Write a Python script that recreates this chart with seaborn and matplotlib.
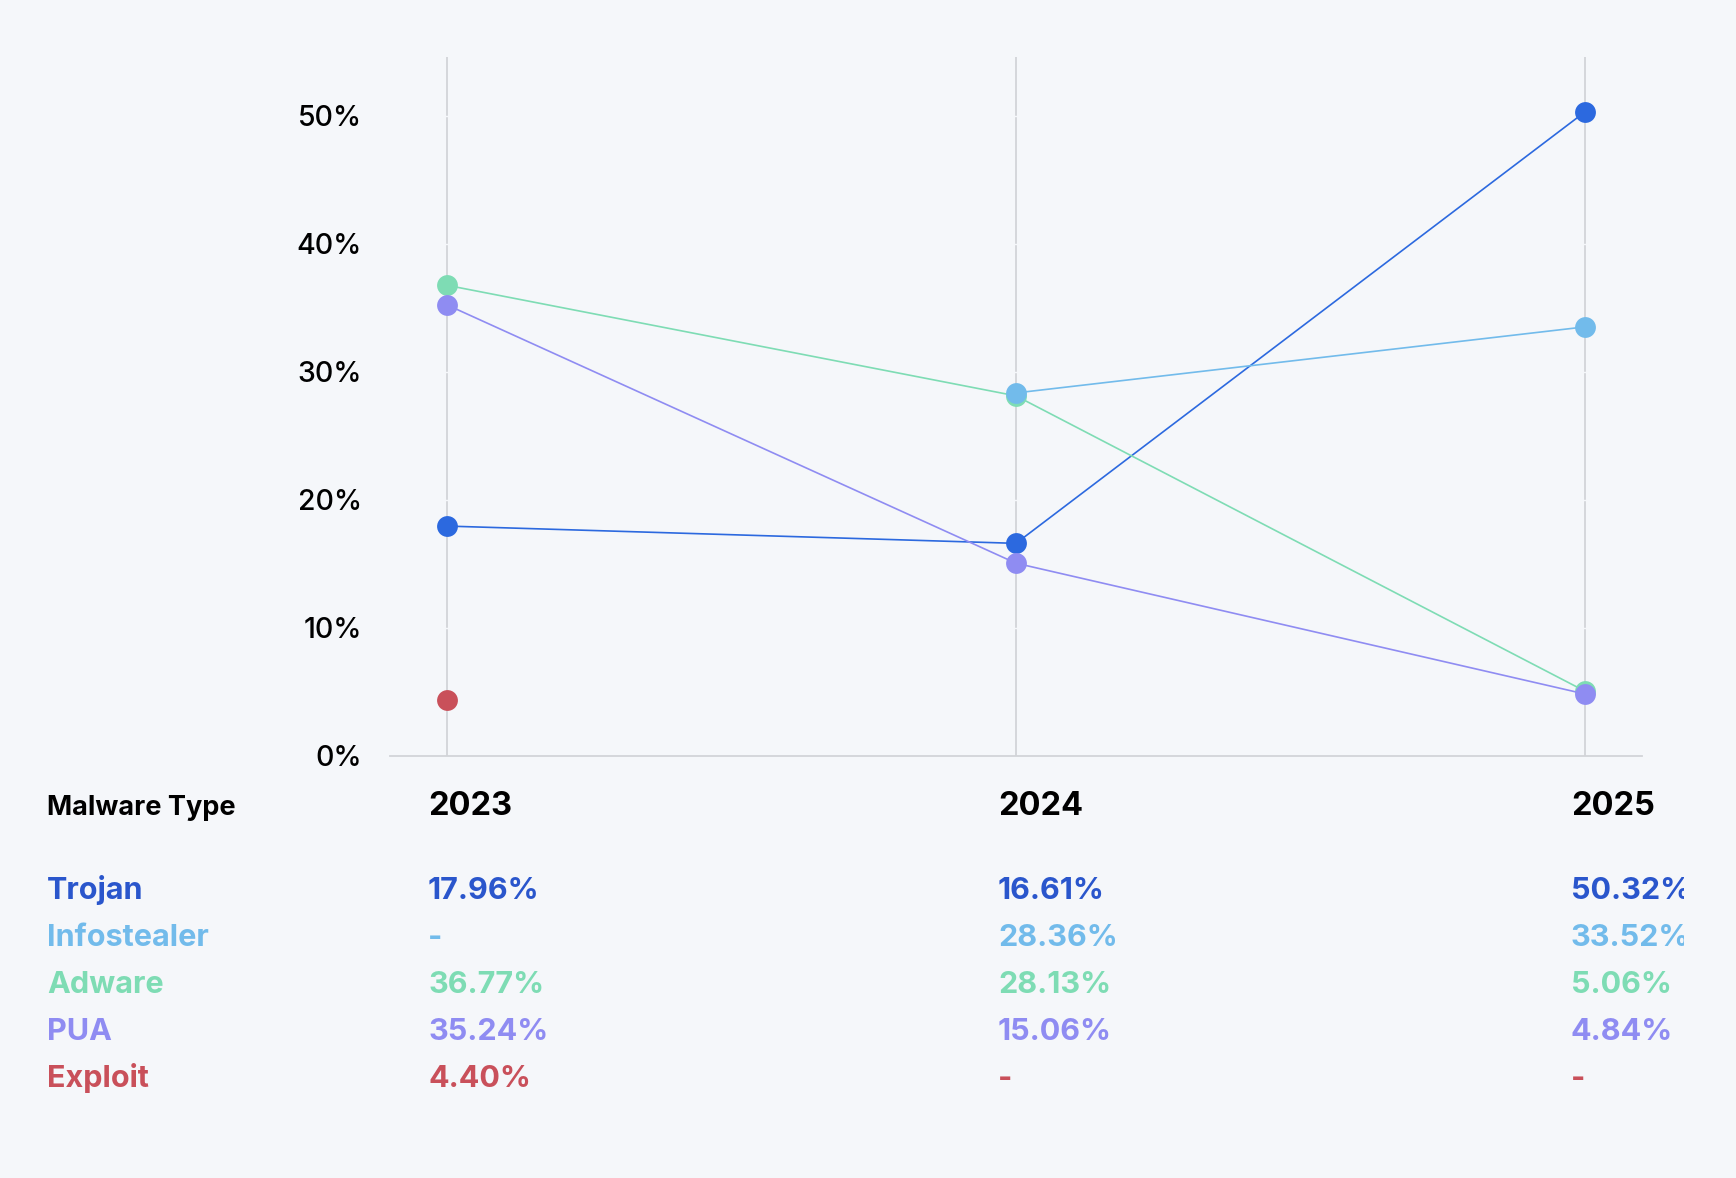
import numpy as np
import pandas as pd
import matplotlib
matplotlib.use("Agg")
import matplotlib.pyplot as plt
from matplotlib.transforms import Bbox
import seaborn as sns

# ---- data ----
years = ["2023", "2024", "2025"]
malware_types = ["Trojan", "Infostealer", "Adware", "PUA", "Exploit"]
trojan = [17.96, 16.61, 50.32]
infostealer = [np.nan, 28.36, 33.52]
adware = [36.77, 28.13, 5.06]
pua = [35.24, 15.06, 4.84]
exploit = [4.40, np.nan, np.nan]
y_ticks = [0, 10, 20, 30, 40, 50]

series = {"Trojan": trojan, "Infostealer": infostealer, "Adware": adware,
          "PUA": pua, "Exploit": exploit}

line_colors = {"Trojan": "#2c69df", "Infostealer": "#72bbeb", "Adware": "#7edcb4",
               "PUA": "#8f8cf2", "Exploit": "#c9505a"}
text_colors = {"Trojan": "#2a56cc", "Infostealer": "#72bbeb", "Adware": "#7edcb4",
               "PUA": "#8f8cf2", "Exploit": "#c9505a"}

rows = []
for name, vals in series.items():
    for i, v in enumerate(vals):
        rows.append({"type": name, "x": i, "value": v})
df = pd.DataFrame(rows).dropna()

BG = "#f5f7fa"
sns.set_theme(style="white")
plt.rcParams["font.family"] = ["Inter", "DejaVu Sans"]

W, H = 1736, 1178
fig = plt.figure(figsize=(W / 100, H / 100), dpi=100, facecolor=BG)
ax = fig.add_axes([390 / W, 1 - 756 / H, (1642 - 390) / W, (756 - 57) / H])
ax.set_facecolor(BG)

draw_order = ["Exploit", "Trojan", "Adware", "PUA", "Infostealer"]
sns.lineplot(data=df, x="x", y="value", hue="type", hue_order=draw_order,
             palette=line_colors, marker="o", markersize=15, markeredgewidth=0,
             linewidth=1.2, ax=ax, legend=False, zorder=3)

ax.set_xlim(-0.1, 2.1)
ax.set_ylim(0, 54.6)
ax.set_xticks(range(len(years)))
ax.set_xticklabels([])
ax.set_yticks(y_ticks)
ax.set_yticklabels([f"{t}%" for t in y_ticks], fontweight="medium")
ax.set_xlabel("")
ax.set_ylabel("")
ax.tick_params(axis="y", length=0, pad=20, labelsize=20.5, labelcolor="#000000")
ax.tick_params(axis="x", length=0)
for s in ["left", "right", "top"]:
    ax.spines[s].set_visible(False)
ax.spines["bottom"].set_color("#d2d4d8")
ax.spines["bottom"].set_linewidth(1.3)
ax.xaxis.grid(True, color="#d2d4d8", linewidth=1.3)
ax.yaxis.grid(True, color=BG, linewidth=1.0)
ax.set_axisbelow(True)

# ---- table below ----
def px(x, y):
    return x / W, 1 - y / H

col_x = [428, 998, 1571]
clip = Bbox.from_extents(0, 0, 1684, H)

fig.text(*px(47, 815), "Malware Type", fontsize=19.5, fontweight="bold",
         color="#000000", va="baseline", ha="left")
for cx, yr in zip(col_x, years):
    fig.text(*px(cx, 815), yr, fontsize=23.5, fontweight="bold",
             color="#000000", va="baseline", ha="left")

row_y0, row_dy = 899, 47
for r, name in enumerate(malware_types):
    y = row_y0 + r * row_dy
    fig.text(*px(47, y), name, fontsize=22, fontweight="bold",
             color=text_colors[name], va="baseline", ha="left")
    for c, v in enumerate(series[name]):
        label = "-" if np.isnan(v) else f"{v:.2f}%"
        t = fig.text(*px(col_x[c], y), label, fontsize=22, fontweight="bold",
                     color=text_colors[name], va="baseline", ha="left")
        t.set_clip_box(clip)
        t.set_clip_on(True)

fig.savefig("out.png", dpi=100, facecolor=BG)
